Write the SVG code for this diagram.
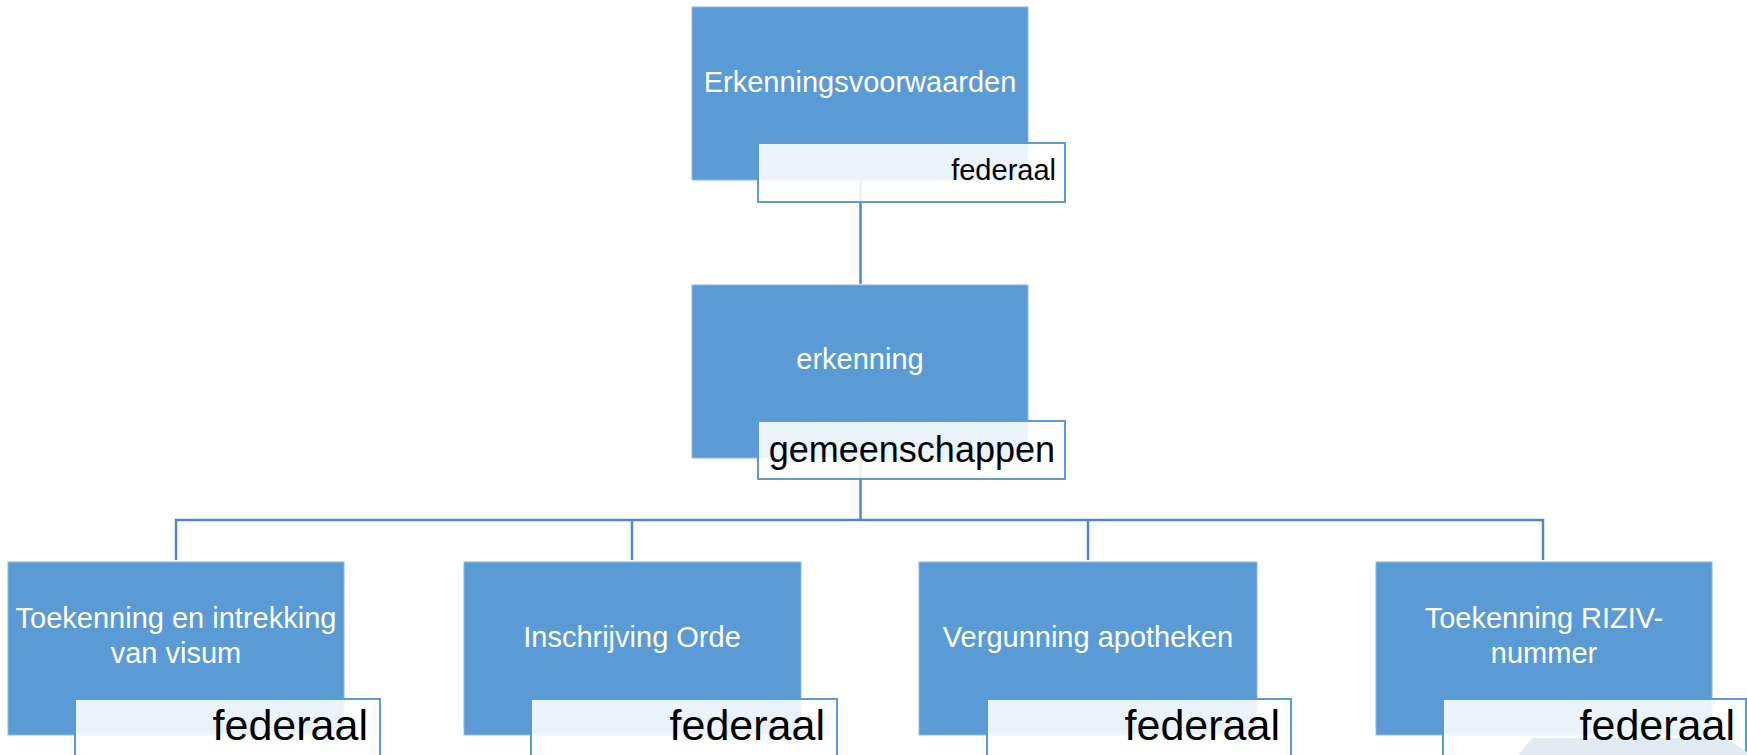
<svg xmlns="http://www.w3.org/2000/svg" width="1747" height="755" viewBox="0 0 1747 755">
<style>
.box{fill:#5B9BD5;stroke:#8DB8E2;stroke-width:1}
.lab{fill:#FFFFFF;fill-opacity:0.88;stroke:#5B9BD5;stroke-width:2}
.wt{font-family:"Liberation Sans",Arial,sans-serif;font-size:29px;fill:#FFFFFF;text-anchor:middle}
.bt{font-family:"Liberation Sans",Arial,sans-serif;fill:#000000;text-anchor:end}
.con{fill:none;stroke:#5087C4;stroke-width:2.5}
</style>
<rect width="1747" height="755" fill="#FFFFFF"/>
<g id="connectors">
<path class="con" d="M860.5,180 V284"/>
<path class="con" d="M860.5,458 V520"/>
<path class="con" d="M176,560 V520 H1543 V560"/>
<path class="con" d="M632,520 V560"/>
<path class="con" d="M1088,520 V560"/>
</g>
<g id="n-erkenningsvoorwaarden">
<rect class="box" x="692" y="7" width="336" height="173"/>
<text class="wt" x="860" y="92">Erkenningsvoorwaarden</text>
<rect class="lab" x="758" y="143" width="307" height="59"/>
<text class="bt" x="1056" y="180" font-size="29">federaal</text>
</g>
<g id="n-erkenning">
<rect class="box" x="692" y="285" width="336" height="173"/>
<text class="wt" x="860" y="369">erkenning</text>
<rect class="lab" x="758" y="421" width="307" height="58"/>
<text class="bt" x="1055" y="462" font-size="36">gemeenschappen</text>
</g>
<g id="n-visum">
<rect class="box" x="8" y="562" width="336" height="173"/>
<text class="wt" x="176" y="628">Toekenning en intrekking</text>
<text class="wt" x="176" y="663">van visum</text>
<rect class="lab" x="75" y="699" width="305" height="70"/>
<text class="bt" x="368" y="740" font-size="43">federaal</text>
</g>
<g id="n-orde">
<rect class="box" x="464" y="562" width="337" height="173"/>
<text class="wt" x="632" y="647">Inschrijving Orde</text>
<rect class="lab" x="531" y="699" width="306" height="70"/>
<text class="bt" x="825" y="740" font-size="43">federaal</text>
</g>
<g id="n-apotheken">
<rect class="box" x="919" y="562" width="338" height="173"/>
<text class="wt" x="1088" y="647">Vergunning apotheken</text>
<rect class="lab" x="987" y="699" width="304" height="70"/>
<text class="bt" x="1280" y="740" font-size="43">federaal</text>
</g>
<g id="n-riziv">
<rect class="box" x="1376" y="562" width="336" height="173"/>
<text class="wt" x="1544" y="628">Toekenning RIZIV-</text>
<text class="wt" x="1544" y="663">nummer</text>
<rect class="lab" x="1443" y="699" width="303" height="70"/>
<polygon points="1532,738 1726,738 1747,752 1747,755 1518,755" fill="#E2EAF1"/>
<text class="bt" x="1735" y="740" font-size="43">federaal</text>
</g>
</svg>
